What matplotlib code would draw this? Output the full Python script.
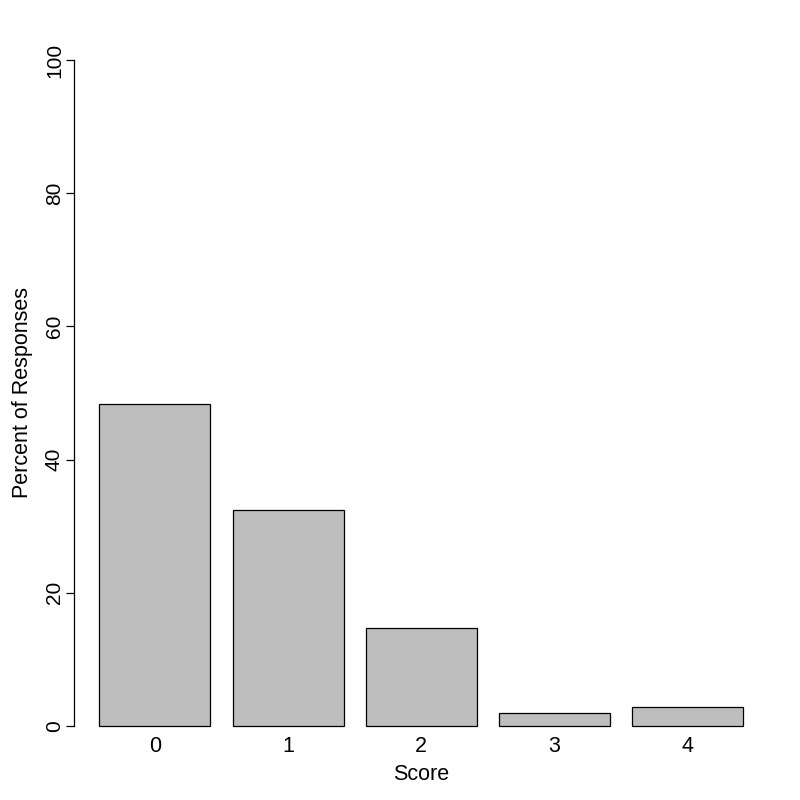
import matplotlib.pyplot as plt

plt.rcParams['font.family'] = ['Liberation Sans', 'DejaVu Sans']

# bar heights (percent)
scores = ['0', '1', '2', '3', '4']
percents = [48.3, 32.4, 14.7, 1.9, 2.8]
yticks = [0, 20, 40, 60, 80, 100]

fig = plt.figure(figsize=(8, 8), dpi=100)
ax = fig.add_axes([0.092, 0.0593, 0.869, 0.8990])

# R barplot layout: width 1, space 0.2
lefts = [0.2 + i * 1.2 for i in range(len(scores))]
centers = [l + 0.5 for l in lefts]
ax.bar(centers, percents, width=1.0, color='#bebebe', edgecolor='black', linewidth=0.9)

ax.set_xlim(-0.032, 6.232)
ax.set_ylim(-4, 104)

for s in ['top', 'right', 'bottom']:
    ax.spines[s].set_visible(False)
ax.spines['left'].set_bounds(0, 100)
ax.spines['left'].set_linewidth(0.9)

ax.set_yticks(yticks)
ax.set_yticklabels([str(t) for t in yticks], rotation=90, va='center', fontsize=15)
ax.tick_params(axis='y', length=6, width=0.9, pad=1)

ax.set_xticks(centers)
ax.set_xticklabels(scores, fontsize=15.5)
ax.tick_params(axis='x', length=0, pad=-12)

ax.set_xlabel('Score', fontsize=15.5, va='top')
ax.xaxis.set_label_coords(0.5, -0.016)
ax.set_ylabel('Percent of Responses', fontsize=15.5)
ax.yaxis.set_label_coords(-0.058, 0.5)

fig.savefig('out.png', dpi=100)
